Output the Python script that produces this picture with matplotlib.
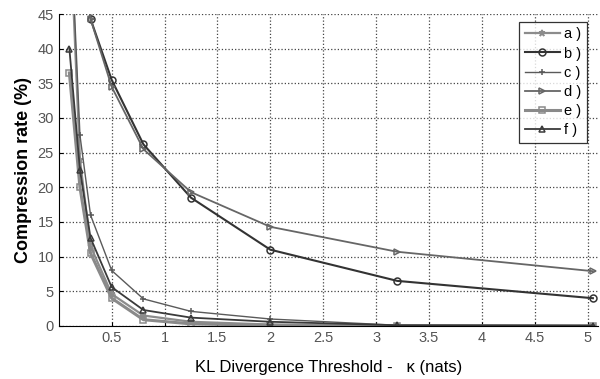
import matplotlib
matplotlib.use("Agg")
import matplotlib.pyplot as plt

# Valores (limiar KL em nats, taxa de compressão em %)
kappa = [0.1, 0.2, 0.3, 0.5, 0.8, 1.25, 2.0, 3.2, 5.05]

serie_a = [60.0, 24.0, 11.5, 4.6, 1.5, 0.6, 0.2, 0.05, 0.0]
serie_b = [90.0, 70.0, 44.3, 35.5, 26.2, 18.5, 11.0, 6.5, 4.0]
serie_c = [62.0, 27.5, 16.0, 8.0, 3.9, 2.1, 1.0, 0.1, 0.05]
serie_d = [88.0, 68.0, 44.3, 34.5, 25.5, 19.3, 14.3, 10.7, 7.9]
serie_e = [36.5, 20.0, 10.5, 4.0, 0.9, 0.3, 0.1, 0.0, 0.0]
serie_f = [40.0, 22.5, 12.7, 5.6, 2.3, 1.2, 0.6, 0.1, 0.05]

rotulos = ['a )', 'b )', 'c )', 'd )', 'e )', 'f )']
series = [serie_a, serie_b, serie_c, serie_d, serie_e, serie_f]
marcadores = ['*', 'o', '+', '>', 's', '^']
cores = ['#8c8c8c', '#333333', '#5a5a5a', '#666666', '#8a8a8a', '#3a3a3a']
larguras = [1.6, 1.5, 1.0, 1.3, 2.2, 1.3]

plt.rcParams['font.family'] = ['Liberation Sans', 'DejaVu Sans']

fig = plt.figure(figsize=(6.0, 3.79), dpi=100)
ax = fig.add_axes([0.098, 0.14, 0.899, 0.823])

for vals, rot, mk, cor, lw in zip(series, rotulos, marcadores, cores, larguras):
    ax.plot(kappa, vals, marker=mk, color=cor, linewidth=lw, markersize=5,
            markerfacecolor='none', markeredgecolor=cor, markeredgewidth=1.1,
            label=rot)

ax.set_xlim(0, 5.1)
ax.set_ylim(0, 45)
ax.set_xticks([0.5, 1, 1.5, 2, 2.5, 3, 3.5, 4, 4.5, 5])
ax.set_xticklabels(['0.5', '1', '1.5', '2', '2.5', '3', '3.5', '4', '4.5', '5'])
ax.set_yticks(range(0, 46, 5))

ax.grid(True, linestyle=':', color='#444444', linewidth=0.9)
ax.spines['top'].set_visible(False)
ax.spines['right'].set_visible(False)
ax.tick_params(direction='in', labelsize=10.5, labelcolor='#555555', length=3)

ax.set_ylabel('Compression rate (%)', fontsize=13, weight='bold', labelpad=4)
ax.set_xlabel('KL Divergence Threshold -   \u03ba (nats)', fontsize=12, labelpad=11)

leg = ax.legend(loc='upper right', bbox_to_anchor=(0.985, 0.985), fontsize=10.5,
                frameon=True, fancybox=False, handlelength=2.4, borderpad=0.4,
                labelspacing=0.35, handletextpad=0.3, borderaxespad=0.2)
leg.get_frame().set_edgecolor('black')
leg.get_frame().set_linewidth(0.9)

plt.savefig('out.png', dpi=100)
